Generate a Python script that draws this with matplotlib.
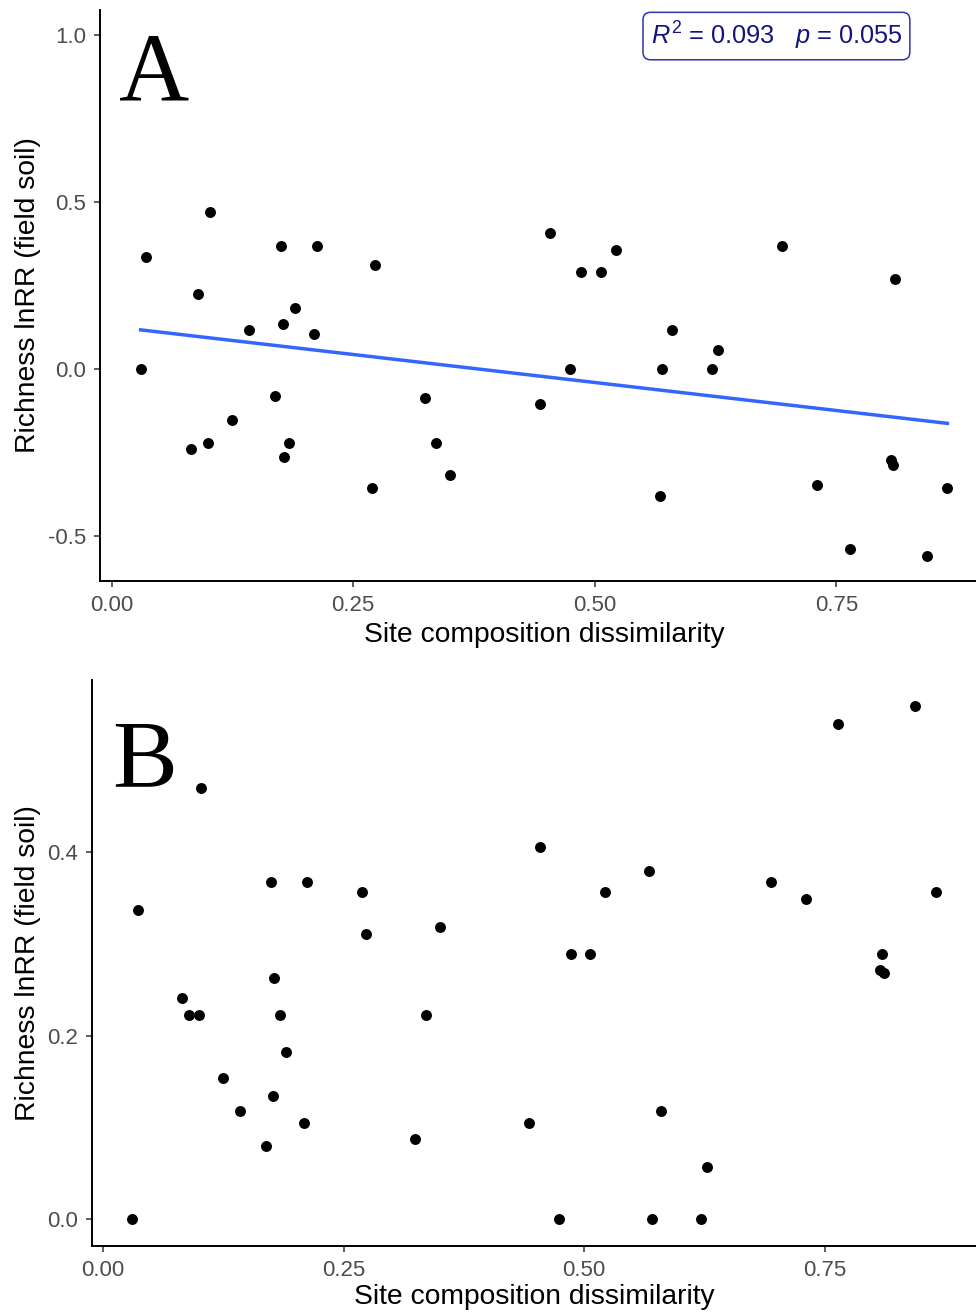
import numpy as np
import matplotlib
matplotlib.use("Agg")
import matplotlib.pyplot as plt

plt.rcParams["font.family"] = ["Liberation Sans", "DejaVu Sans"]
plt.rcParams["mathtext.fontset"] = "custom"
plt.rcParams["mathtext.rm"] = "Liberation Sans"
plt.rcParams["mathtext.it"] = "Liberation Sans:italic"

# Site composition dissimilarity (shared by both panels)
dissimilarity = [
    0.030, 0.036, 0.082, 0.089, 0.100, 0.102, 0.125, 0.142, 0.169, 0.175,
    0.177, 0.178, 0.184, 0.190, 0.209, 0.212, 0.269, 0.273, 0.324, 0.336,
    0.350, 0.443, 0.454, 0.474, 0.486, 0.506, 0.522, 0.567, 0.570, 0.580,
    0.621, 0.628, 0.694, 0.730, 0.764, 0.807, 0.809, 0.811, 0.844, 0.865,
]

# Panel A: richness lnRR in field soil
lnrr_a = [
    0.000, 0.336, -0.241, 0.223, -0.223, 0.470, -0.154, 0.118, -0.080, 0.368,
    0.134, -0.263, -0.223, 0.182, 0.105, 0.368, -0.357, 0.311, -0.087, -0.223,
    -0.319, -0.105, 0.406, 0.000, 0.289, 0.289, 0.357, -0.380, 0.000, 0.118,
    0.000, 0.057, 0.368, -0.349, -0.540, -0.272, -0.289, 0.268, -0.560, -0.357,
]

# Panel B: magnitude of richness lnRR
lnrr_b = [
    0.000, 0.337, 0.241, 0.223, 0.223, 0.470, 0.154, 0.118, 0.080, 0.368,
    0.134, 0.263, 0.223, 0.182, 0.105, 0.368, 0.357, 0.311, 0.087, 0.223,
    0.319, 0.105, 0.406, 0.000, 0.289, 0.289, 0.357, 0.380, 0.000, 0.118,
    0.000, 0.057, 0.368, 0.349, 0.540, 0.272, 0.289, 0.268, 0.560, 0.357,
]

x_ticks = [0.00, 0.25, 0.50, 0.75]
x_ticklabels = ["0.00", "0.25", "0.50", "0.75"]
ya_ticks = [-0.5, 0.0, 0.5, 1.0]
ya_ticklabels = ["-0.5", "0.0", "0.5", "1.0"]
yb_ticks = [0.0, 0.2, 0.4]
yb_ticklabels = ["0.0", "0.2", "0.4"]

stat_label = r"$R^2$ = 0.093   $p$ = 0.055"

W, H = 976, 1315
fig = plt.figure(figsize=(W / 100, H / 100), dpi=100)


def px_axes(left, top, right, bottom):
    return fig.add_axes([left / W, 1 - bottom / H, (right - left) / W, (bottom - top) / H])


def style_axes(ax):
    for side in ("top", "right"):
        ax.spines[side].set_visible(False)
    for side in ("left", "bottom"):
        ax.spines[side].set_linewidth(1.4)
        ax.spines[side].set_color("black")
    ax.tick_params(direction="out", length=4.5, width=1.1, color="#333333",
                   labelsize=16, labelcolor="#4D4D4D", pad=5.5)
    ax.set_facecolor("white")


title_size = 20.3

# ---- Panel A ----
axA = px_axes(100, 10, 988, 581)
style_axes(axA)
axA.scatter(dissimilarity, lnrr_a, s=62, color="black", zorder=3, linewidths=0)
xa = np.array(dissimilarity)
slope, intercept = np.polyfit(xa, np.array(lnrr_a), 1)
xl = np.array([xa.min(), xa.max()])
axA.plot(xl, intercept + slope * xl, color="#3366FF", lw=2.5, zorder=2)
axA.set_xlim(-0.0121, 0.907)
axA.set_ylim(-0.635, 1.075)
axA.set_xticks(x_ticks, x_ticklabels)
axA.set_yticks(ya_ticks, ya_ticklabels)
axA.set_xlabel("Site composition dissimilarity", fontsize=title_size)
axA.set_ylabel("Richness lnRR (field soil)", fontsize=title_size)
axA.xaxis.set_label_coords(0.5, -0.0946)
axA.xaxis.label.set_verticalalignment("center")
axA.yaxis.set_label_coords(-0.0811, 0.5)
axA.yaxis.label.set_verticalalignment("center")
axA.text(0.0214, 0.8424, "A", transform=axA.transAxes, fontsize=70,
         family="Liberation Serif", ha="left", va="baseline")
axA.text(0.688, 0.997, stat_label, fontsize=18.3, color="#141480",
         ha="center", va="center",
         bbox=dict(boxstyle="round,pad=0.3,rounding_size=0.3", facecolor="white",
                   edgecolor="#3333AA", linewidth=1.1))

# ---- Panel B ----
axB = px_axes(91.7, 680, 976, 1245.7)
style_axes(axB)
axB.scatter(dissimilarity, lnrr_b, s=62, color="black", zorder=3, linewidths=0)
axB.set_xlim(-0.0117, 0.907)
axB.set_ylim(-0.0288, 0.588)
axB.set_xticks(x_ticks, x_ticklabels)
axB.set_yticks(yb_ticks, yb_ticklabels)
axB.set_xlabel("Site composition dissimilarity", fontsize=title_size)
axB.set_ylabel("Richness lnRR (field soil)", fontsize=title_size)
axB.xaxis.set_label_coords(0.5, -0.0907)
axB.xaxis.label.set_verticalalignment("center")
axB.yaxis.set_label_coords(-0.072, 0.5)
axB.yaxis.label.set_verticalalignment("center")
axB.text(0.023, 0.8096, "B", transform=axB.transAxes, fontsize=70,
         family="Liberation Serif", ha="left", va="baseline")

fig.savefig("out.png", dpi=100, facecolor="white")
